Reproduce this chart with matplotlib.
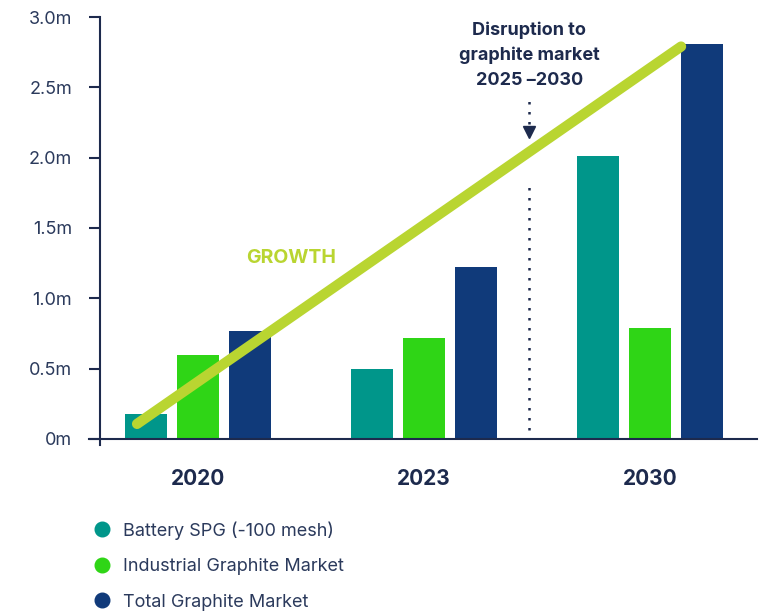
#!/usr/bin/env python3
"""Graphite market growth: battery SPG vs industrial vs total."""

import matplotlib
matplotlib.use("Agg")
from matplotlib import pyplot as plt
from matplotlib.lines import Line2D
import numpy as np

years = ["2020", "2023", "2030"]
battery_spg = [0.18, 0.50, 2.01]
industrial = [0.60, 0.72, 0.79]
total = [0.77, 1.22, 2.81]
series_labels = [
    "Battery SPG (-100 mesh)",
    "Industrial Graphite Market",
    "Total Graphite Market",
]
y_ticks = [0, 0.5, 1.0, 1.5, 2.0, 2.5, 3.0]
y_tick_labels = ["0m", "0.5m", "1.0m", "1.5m", "2.0m", "2.5m", "3.0m"]

# growth arrow drawn across the groups (group index on x, millions on y)
growth_x = [-0.27, 2.137]
growth_y = [0.107, 2.79]
disruption_x = 1.465

TEAL = "#00968a"
GREEN = "#2fd516"
NAVY = "#103a7a"
LIME = "#b9d531"
INK = "#1d2a4d"

plt.rcParams["font.family"] = ["Inter", "DejaVu Sans"]

fig = plt.figure(figsize=(7.61, 6.11), dpi=100)
W, H = 761, 611
ax = fig.add_axes([100 / W, (H - 445) / H, 657 / W, 428 / H])

x = np.arange(len(years))
step = 52 / 226
width = 42 / 226
colors = [TEAL, GREEN, NAVY]
for i, (vals, c) in enumerate(zip([battery_spg, industrial, total], colors)):
    ax.bar(x + (i - 1) * step, vals, width, color=c, zorder=2)

ax.plot(growth_x, growth_y, color=LIME, lw=7.4, solid_capstyle="round",
        zorder=4)
ax.text(0.41, 1.29, "GROWTH", color=LIME, fontsize=14, fontweight="bold",
        ha="center", va="center", zorder=5)

# disruption marker
ax.plot([disruption_x, disruption_x], [0.065, 1.84], color=INK, lw=1.8,
        ls=(0, (1, 3)), zorder=3)
ax.plot([disruption_x, disruption_x], [2.24, 2.43], color=INK, lw=1.8,
        ls=(0, (1, 3)), zorder=3)
ax.plot([disruption_x], [2.18], marker="v", color=INK, markersize=8,
        zorder=3)
ax.text(disruption_x, 2.73, "Disruption to\ngraphite market\n2025 \u20132030",
        color=INK, fontsize=13, fontweight="bold", ha="center",
        va="center", linespacing=1.6)

ax.set_xlim(-0.434, 2.473)
ax.set_ylim(-0.043, 3.0)
ax.set_yticks(y_ticks)
ax.set_yticklabels(y_tick_labels)
ax.set_xticks(x)
ax.set_xticklabels(years, fontsize=15, fontweight="bold", color=INK)

for side in ["top", "right", "bottom"]:
    ax.spines[side].set_visible(False)
ax.spines["left"].set_color(INK)
ax.spines["left"].set_linewidth(1.5)
ax.axhline(0, xmin=-11 / 657, xmax=1, color=INK, lw=1.5, clip_on=False,
           zorder=3)
ax.tick_params(axis="y", length=8, width=1.5, color=INK, pad=12,
               labelsize=13, labelcolor="#2b3a5c")
ax.tick_params(axis="x", length=0, pad=17)

handles = [Line2D([], [], marker="o", ls="", color=c, markersize=10.5)
           for c in colors]
fig.legend(handles, series_labels, loc="upper left",
           bbox_to_anchor=(86 / W, (H - 514) / H), frameon=False,
           fontsize=13, labelcolor="#2b3a5c", labelspacing=1.02,
           handletextpad=0.65, handlelength=1.0, borderaxespad=0)

fig.savefig("out.png", dpi=100)
